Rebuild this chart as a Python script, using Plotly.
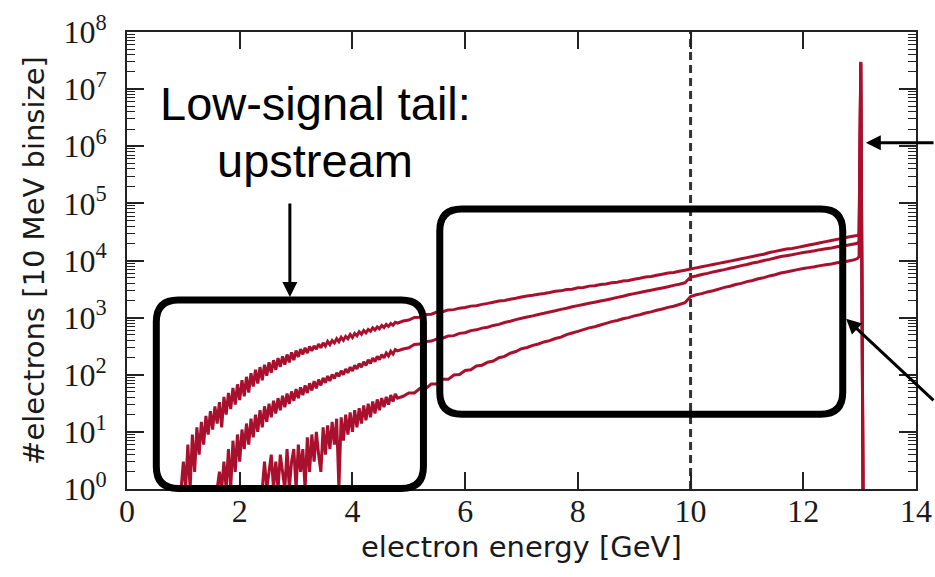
import numpy as np
import plotly.graph_objects as go

# ---------------------------------------------------------------
# Electron energy spectrum, three configurations, 10 MeV bins
# ---------------------------------------------------------------

# bin energies [GeV]
fine_energy = np.round(np.arange(0.84, 4.81, 0.04), 2)     # noisy low-energy tail
coarse_energy = np.round(np.arange(4.9, 12.91, 0.1), 1)    # smooth part of the spectrum
edge_energy = [12.96, 12.99, 13.02, 13.06]                 # beam-energy peak

# counts per bin, upper curve
upper_fine = [None, None, None,
              1, 3, 1, 6, 1, 9, 2, 12, 4, 15,
              6, 19, 9, 23, 11, 28, 14, 33, 12, 41,
              20, 48, 25, 59, 30, 68, 36, 80, 42, 92,
              49, 106, 62, 122, 70, 136, 80, 150, 96, 165,
              108, 180, 122, 196, 138, 210, 150, 226, 165, 246,
              180, 265, 205, 280, 228, 296, 240, 312, 262, 322,
              282, 345, 296, 362, 318, 384, 336, 396, 360, 426,
              378, 452, 400, 470, 428, 508, 450, 530, 482, 566,
              512, 596, 540, 622, 576, 662, 606, 690, 640, 728,
              672, 760, 702, 790, 740, 830, 800]
upper_coarse = [871, 905, 1010, 1015, 1130, 1150, 1250, 1270, 1365, 1380,
                1465, 1505, 1590, 1620, 1705, 1775, 1860, 1950, 1995, 2100,
                2180, 2300, 2390, 2460, 2560, 2640, 2750, 2890, 2940, 3100,
                3150, 3320, 3380, 3560, 3620, 3810, 3880, 4080, 4160, 4370,
                4460, 4680, 4890, 5140, 5240, 5500, 5750, 6030, 6160, 6460,
                6750, 7080, 7420, 7750, 8130, 8520, 8900, 9340, 9760, 10240,
                10700, 11230, 11740, 12310, 12870, 13810, 14450, 15140, 15840, 16230,
                16970, 17790, 18610, 19510, 20400, 21390, 22380, 23450, 24540, 25710,
                26900]
upper_edge = [27500, 29000, 30000000, 1]

# counts per bin, middle curve
middle_fine = [None] * 19 + [
    1, 2, 1, 3, 1, 5, 1, 7, 2, 9,
    3, 11, 5, 14, 6, 17, 8, 20, 10, 24,
    12, 28, 15, 31, 18, 35, 21, 39, 24, 43,
    27, 47, 31, 51, 35, 56, 39, 60, 44, 65,
    48, 71, 53, 77, 58, 82, 65, 88, 72, 95,
    78, 101, 86, 108, 93, 117, 100, 126, 108, 136,
    116, 146, 126, 157, 136, 168, 146, 182, 158, 195,
    170, 210, 183, 226, 198, 240, 213, 257, 230, 276,
    262]
middle_coarse = [282, 296, 338, 345, 380, 388, 425, 436, 478, 484,
                 530, 544, 592, 611, 655, 680, 731, 762, 820, 866,
                 922, 978, 1022, 1073, 1134, 1190, 1258, 1319, 1395, 1463,
                 1548, 1623, 1697, 1779, 1861, 1951, 2041, 2139, 2264, 2372,
                 2511, 2631, 2753, 2885, 3019, 3163, 3310, 3468, 3672, 3847,
                 4073, 5130, 5369, 5690, 5956, 6311, 6606, 6919, 7327, 7675,
                 8127, 8512, 9015, 9442, 9999, 10472, 11091, 11750, 12161, 12590,
                 13182, 13805, 14288, 14792, 15487, 16033, 16595, 17379, 17988, 18622,
                 19497]
middle_edge = [20000, 21500, 29000000, 1]

# counts per bin, lower curve
lower_fine = [None] * 39 + [
    1, 3, 1, 2, 4, 1, 3, 1, 4, 2,
    1, 5, 1, 3, 5, 1, 6, 2, 5, 1,
    8, 2, 9, 3, 10, 4, 2, 12, 4, 13,
    5, 15, 6, 17, 1, 18, 7, 20, 9, 22,
    10, 24, 12, 26, 14, 29, 16, 31, 18, 34,
    21, 37, 24, 39, 27, 41, 30, 44, 34, 46,
    39]
lower_coarse = [42, 48, 48, 58, 57, 69, 69, 83, 83, 99,
                101, 119, 122, 142, 147, 166, 174, 199, 210, 238,
                255, 285, 300, 327, 345, 375, 396, 430, 455, 503,
                537, 575, 617, 661, 692, 741, 794, 851, 891, 955,
                1000, 1072, 1122, 1202, 1259, 1349, 1413, 1514, 1585, 1698,
                1820, 2344, 2512, 2630, 2818, 2951, 3162, 3388, 3548, 3802,
                3981, 4266, 4467, 4786, 5012, 5370, 5623, 6026, 6310, 6607,
                6918, 7244, 7499, 7762, 8128, 8414, 8710, 9120, 9441, 9772,
                10233]
lower_edge = [10800, 11800, 28000000, 1]

# axis ticks
x_ticks = [0, 2, 4, 6, 8, 10, 12, 14]
y_decades = list(range(0, 9))
y_tick_text = [f"10<sup>{k}</sup>" for k in y_decades]

# dashed marker energy
marker_energy = 10

# ---------------------------------------------------------------
energy = list(fine_energy) + list(coarse_energy) + edge_energy
series = {
    "upper": upper_fine + upper_coarse + upper_edge,
    "middle": middle_fine + middle_coarse + middle_edge,
    "lower": lower_fine + lower_coarse + lower_edge,
}
for name, vals in series.items():
    assert len(vals) == len(energy), (name, len(vals), len(energy))

RED = "#a8102e"
W, H = 935, 577
M = dict(l=127, r=19, t=32, b=88)
PW = W - M["l"] - M["r"]
PH = H - M["t"] - M["b"]
X_MAX, Y_DEC = 14.0, 8.0

fig = go.Figure()

fig.add_trace(go.Scatter(
    x=[marker_energy, marker_energy], y=[1, 1e8], mode="lines",
    line=dict(color="#333333", width=3, dash="8px,5px"),
    hoverinfo="skip", showlegend=False))

for name, vals in series.items():
    fig.add_trace(go.Scatter(
        x=energy, y=vals, mode="lines", name=name,
        line=dict(color=RED, width=3, simplify=False),
        connectgaps=False, showlegend=False))


def box_path(e0, e1, d0, d1, r_px):
    """Rounded rectangle given in (energy, decade) units, drawn in paper space."""
    x0, x1 = e0 / X_MAX, e1 / X_MAX
    y0, y1 = d0 / Y_DEC, d1 / Y_DEC
    rx, ry = r_px / PW, r_px / PH
    return (f"M {x0 + rx},{y0} L {x1 - rx},{y0} Q {x1},{y0} {x1},{y0 + ry} "
            f"L {x1},{y1 - ry} Q {x1},{y1} {x1 - rx},{y1} "
            f"L {x0 + rx},{y1} Q {x0},{y1} {x0},{y1 - ry} "
            f"L {x0},{y0 + ry} Q {x0},{y0} {x0 + rx},{y0} Z")


# highlight boxes: low-signal tail and the plateau
for e0, e1, d0, d1 in [(0.52, 5.26, 0.01, 3.31), (5.55, 12.70, 1.31, 4.90)]:
    fig.add_shape(type="path", xref="paper", yref="paper",
                  path=box_path(e0, e1, d0, d1, 22),
                  line=dict(color="black", width=7), fillcolor="rgba(0,0,0,0)")

annotations = []
# pointer arrows (tip given in energy / decade units)
for e, d, ax, ay in [(2.89, 3.36, 0, -95), (13.11, 6.06, 80, 0), (12.76, 2.98, 100, 83)]:
    annotations.append(dict(
        x=e / X_MAX, y=d / Y_DEC, xref="paper", yref="paper",
        ax=ax, ay=ay, axref="pixel", ayref="pixel",
        text="", showarrow=True, arrowhead=2, arrowsize=1, arrowwidth=3,
        arrowcolor="black", standoff=0))

label_font = dict(family="Liberation Sans, Arial, sans-serif", size=47, color="black")
for txt, ypx in [("Low-signal tail:", 104), ("upstream", 161)]:
    annotations.append(dict(
        x=(315 - M["l"]) / PW, y=(M["t"] + PH - ypx) / PH, xref="paper", yref="paper",
        text=txt, showarrow=False, font=label_font, xanchor="center", yanchor="middle"))

tick_font = dict(family="Liberation Serif, Times New Roman, serif", size=32, color="#1a1a1a")
title_font = dict(family="DejaVu Sans, sans-serif", size=29, color="#1a1a1a")

# x-axis title, placed just under the tick labels
annotations.append(dict(
    x=0.5, y=-(547 - (M["t"] + PH)) / PH, xref="paper", yref="paper",
    text="electron energy [GeV]", showarrow=False, font=title_font,
    xanchor="center", yanchor="middle"))

minor_vals = [m * 10 ** k for k in range(0, 8) for m in range(2, 10)]

fig.update_layout(
    width=W, height=H, margin=M,
    paper_bgcolor="white", plot_bgcolor="white",
    annotations=annotations,
    xaxis=dict(
        range=[0, X_MAX], tickvals=x_ticks, ticks="inside", ticklen=17, tickwidth=1.5,
        tickcolor="#222", showline=True, linecolor="#222", linewidth=2, mirror="ticks",
        showgrid=False, zeroline=False, tickfont=tick_font, ticklabelstandoff=-7,
        automargin=False),
    yaxis=dict(
        type="log", range=[0, Y_DEC], tickvals=[10 ** k for k in y_decades],
        ticktext=y_tick_text, ticks="inside", ticklen=17, tickwidth=1.5, tickcolor="#222",
        minor=dict(tickvals=minor_vals, ticks="inside", ticklen=8, tickwidth=1.2,
                   tickcolor="#222", showgrid=False),
        showline=True, linecolor="#222", linewidth=2, mirror="ticks",
        showgrid=False, zeroline=False, tickfont=tick_font, ticklabelstandoff=12,
        automargin=False,
        title=dict(text="#electrons [10 MeV binsize]", font=title_font, standoff=10)),
)

fig.write_html("out.html")
